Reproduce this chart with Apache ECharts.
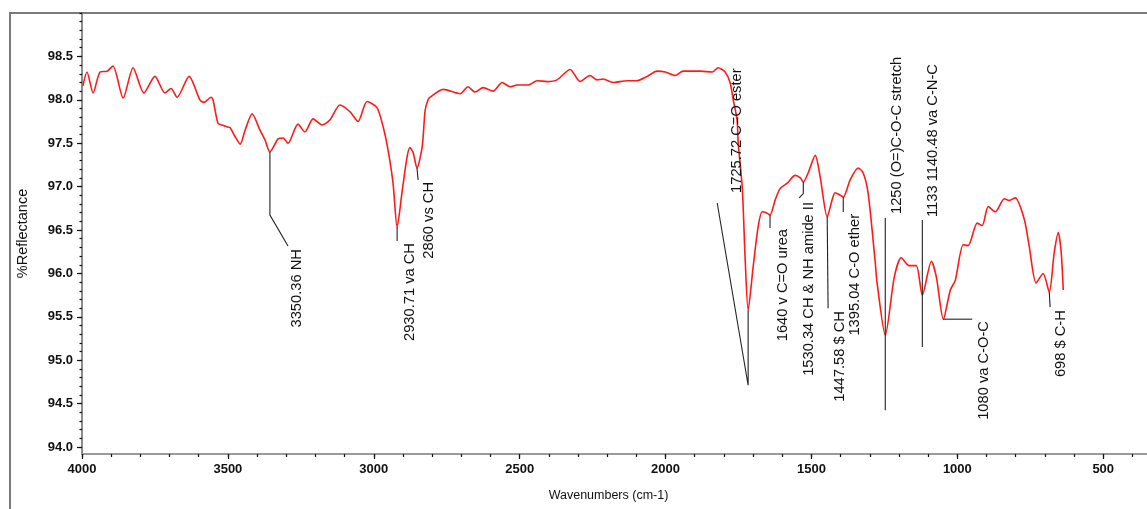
<!DOCTYPE html>
<html>
<head>
<meta charset="utf-8">
<script src="https://cdn.jsdelivr.net/npm/echarts@6/dist/echarts.min.js"></script>
<style>
  html, body { margin: 0; padding: 0; background: #fff; }
  #chart { width: 1147px; height: 509px; }
</style>
</head>
<body>
<div id="chart"></div>
<script>
// spectrum
var wavenumber = [
  3997, 3983, 3962, 3938, 3914, 3894, 3859, 3825, 3788, 3750,
  3716, 3695, 3674, 3633, 3596, 3582, 3558, 3551, 3534, 3520,
  3503, 3493, 3476, 3458, 3441, 3417, 3390, 3373, 3356, 3328,
  3311, 3294, 3260, 3236, 3208, 3177, 3150, 3116, 3081, 3054,
  3023, 2989, 2968, 2951, 2934, 2920, 2903, 2886, 2876, 2865,
  2852, 2834, 2824, 2814, 2807, 2762, 2704, 2677, 2653, 2625,
  2591, 2560, 2533, 2509, 2471, 2440, 2406, 2372, 2327, 2293,
  2259, 2235, 2214, 2180, 2132, 2097, 2063, 2029, 2001, 1967,
  1940, 1881, 1840, 1820, 1796, 1779, 1768, 1755, 1751, 1737,
  1727, 1717, 1700, 1683, 1669, 1655, 1642, 1624, 1607, 1583,
  1556, 1538, 1528, 1511, 1487, 1470, 1446, 1429, 1419, 1401,
  1391, 1367, 1340, 1323, 1306, 1282, 1275, 1247, 1216, 1192,
  1165, 1141, 1120, 1089, 1072, 1048, 1024, 1007, 980, 963,
  932, 915, 894, 870, 839, 822, 802, 771, 754, 730,
  706, 685, 668, 654, 644, 637
];
var reflectance = [
  98.16, 98.32, 98.08, 98.32, 98.33, 98.39, 98.02, 98.37, 98.08, 98.27,
  98.08, 98.13, 98.03, 98.27, 98.00, 97.97, 98.03, 98.00, 97.73, 97.71,
  97.69, 97.68, 97.58, 97.49, 97.65, 97.84, 97.65, 97.54, 97.40, 97.55,
  97.56, 97.50, 97.72, 97.63, 97.78, 97.71, 97.77, 97.94, 97.86, 97.75,
  97.98, 97.91, 97.69, 97.42, 97.04, 96.535, 96.94, 97.34, 97.45, 97.39,
  97.215, 97.46, 97.88, 98.00, 98.03, 98.12, 98.07, 98.15, 98.09, 98.14,
  98.10, 98.20, 98.15, 98.17, 98.17, 98.22, 98.21, 98.23, 98.35, 98.21,
  98.28, 98.23, 98.24, 98.20, 98.22, 98.22, 98.27, 98.33, 98.32, 98.28,
  98.33, 98.33, 98.32, 98.37, 98.32, 98.20, 98.00, 97.77, 97.50, 96.98,
  96.15, 95.577, 96.07, 96.53, 96.71, 96.70, 96.673, 96.85, 96.98, 97.04,
  97.13, 97.10, 97.054, 97.16, 97.36, 97.11, 96.65, 96.85, 96.93, 96.90,
  96.881, 97.08, 97.215, 97.16, 96.93, 96.15, 95.89, 95.289, 95.96, 96.18,
  96.09, 96.09, 95.75, 96.14, 95.96, 95.473, 95.81, 95.92, 96.33, 96.32,
  96.58, 96.55, 96.77, 96.71, 96.86, 96.84, 96.87, 96.63, 96.32, 95.89,
  96.00, 95.785, 96.24, 96.47, 96.24, 95.81
];

// peak labels
var peakLabels = [
  '3350.36 NH', '2930.71 va CH', '2860 vs CH', '1725.72 C=O ester',
  '1640 v C=O urea', '1530.34 CH & NH amide II', '1447.58 $ CH', '1395.04 C-O ether',
  '1250 (O=)C-O-C stretch', '1133 1140.48 va C-N-C', '1080 va C-O-C', '698 $ C-H'
];
var peakWn = [3356, 2920, 2852, 1717, 1642, 1528, 1446, 1391, 1247, 1120, 1048, 685];
var peakVal = [97.40, 96.535, 97.215, 95.577, 96.673, 97.054, 96.65, 96.881, 95.289, 95.75, 95.473, 95.785];

// leader lines and label anchors (data units)
var leaderPaths = [
  [[3356, 97.40], [3356, 96.673], [3294, 96.315]],
  [[2920, 96.535], [2920, 96.373]],
  [[2852, 97.215], [2848, 97.077]],
  [[1717, 95.577], [1717, 94.712], [1823, 96.811]],
  [[1642, 96.673], [1642, 96.523]],
  [[1528, 97.054], [1528, 96.92], [1542, 96.87]],
  [[1446, 96.65], [1443, 95.60]],
  [[1391, 96.881], [1391, 96.708]],
  [[1247, 96.638], [1247, 94.424]],
  [[1120, 96.615], [1120, 95.152]],
  [[1048, 95.473], [949, 95.473]],
  [[685, 95.785], [682, 95.612]]
];
var labelAt = [
  [3290, 96.28], [2903, 96.35], [2838, 97.054], [1782, 96.927],
  [1624, 96.512], [1535, 96.823], [1429, 95.566], [1378, 96.685],
  [1233, 96.685], [1110, 96.65], [935, 95.451], [671, 95.577]
];
var labelAbove = [false, false, false, true, false, false, false, false, true, true, false, false];

// ticks
var xTicks = [4000, 3500, 3000, 2500, 2000, 1500, 1000, 500];
var yTicks = [94.0, 94.5, 95.0, 95.5, 96.0, 96.5, 97.0, 97.5, 98.0, 98.5];

var xMinor = [];
for (var w = 4000; w >= 400; w -= 100) xMinor.push(w);
var yMinor = [];
for (var k = 940; k <= 990; k++) yMinor.push(k / 10);

var FONT = '"Liberation Sans", Arial, sans-serif';

var myChart = echarts.init(document.getElementById('chart'));

var option = {
  animation: false,
  backgroundColor: '#fff',
  grid: { left: 82, right: 0, top: 13, bottom: 55 },
  graphic: [{
    type: 'rect',
    shape: { x: 10, y: 13, width: 1300, height: 600 },
    style: { stroke: '#7a7a7a', lineWidth: 2, fill: null },
    silent: true,
    z: -1
  }],
  xAxis: [{
    type: 'value',
    inverse: true,
    min: 350,
    max: 4000,
    name: 'Wavenumbers (cm-1)',
    nameLocation: 'middle',
    nameGap: 35,
    nameTextStyle: { fontFamily: FONT, fontSize: 12.5, color: '#111', padding: [0, 12, 0, 0] },
    axisLine: { lineStyle: { color: '#9a9a9a', width: 2 } },
    axisTick: { customValues: xTicks, length: 5, lineStyle: { color: '#111', width: 1.2 } },
    axisLabel: {
      customValues: xTicks, margin: 9,
      fontFamily: FONT, fontSize: 13, fontWeight: 'bold', color: '#111',
      formatter: function (v) { return String(Math.round(v)); }
    },
    splitLine: { show: false }
  }, {
    type: 'value',
    inverse: true,
    min: 350,
    max: 4000,
    position: 'bottom',
    axisLine: { show: false },
    axisTick: { customValues: xMinor, length: 3, lineStyle: { color: '#111', width: 1.2 } },
    axisLabel: { show: false },
    splitLine: { show: false }
  }],
  yAxis: [{
    type: 'value',
    min: 93.92,
    max: 99.0,
    name: '%Reflectance',
    nameLocation: 'middle',
    nameGap: 52,
    nameRotate: 90,
    nameTextStyle: { fontFamily: FONT, fontSize: 14.5, color: '#111' },
    axisLine: { show: true, lineStyle: { color: '#666', width: 1.5 } },
    axisTick: { customValues: yTicks, length: 5, lineStyle: { color: '#111', width: 1.2 } },
    axisLabel: {
      customValues: yTicks, margin: 9,
      fontFamily: FONT, fontSize: 13, fontWeight: 'bold', color: '#111',
      formatter: function (v) { return v.toFixed(1); }
    },
    splitLine: { show: false }
  }, {
    type: 'value',
    min: 93.92,
    max: 99.0,
    position: 'left',
    axisLine: { show: false },
    axisTick: { show: true, customValues: yMinor, length: 2.5, lineStyle: { color: '#111', width: 1.2 } },
    axisLabel: { show: false },
    splitLine: { show: false }
  }],
  series: [{
    type: 'line',
    name: 'spectrum',
    xAxisIndex: 0,
    yAxisIndex: 0,
    data: wavenumber.map(function (w, i) { return [w, reflectance[i]]; }),
    showSymbol: false,
    smooth: 0.25,
    lineStyle: { color: '#ff1a1a', width: 1.6 },
    z: 3
  }, {
    type: 'custom',
    name: 'peaks',
    xAxisIndex: 0,
    yAxisIndex: 0,
    clip: false,
    data: peakWn.map(function (w, i) { return [w, peakVal[i]]; }),
    renderItem: function (params, api) {
      var i = params.dataIndex;
      var pts = leaderPaths[i].map(function (p) { return api.coord(p); });
      var t = api.coord(labelAt[i]);
      return {
        type: 'group',
        children: [{
          type: 'polyline',
          shape: { points: pts },
          style: { stroke: '#222', lineWidth: 1.1, fill: null }
        }, {
          type: 'text',
          x: t[0],
          y: t[1],
          rotation: Math.PI / 2,
          style: {
            text: peakLabels[i],
            font: '14.7px ' + FONT,
            fill: '#111',
            align: labelAbove[i] ? 'left' : 'right',
            verticalAlign: 'top'
          }
        }]
      };
    },
    z: 4
  }]
};

myChart.setOption(option);
</script>
</body>
</html>
